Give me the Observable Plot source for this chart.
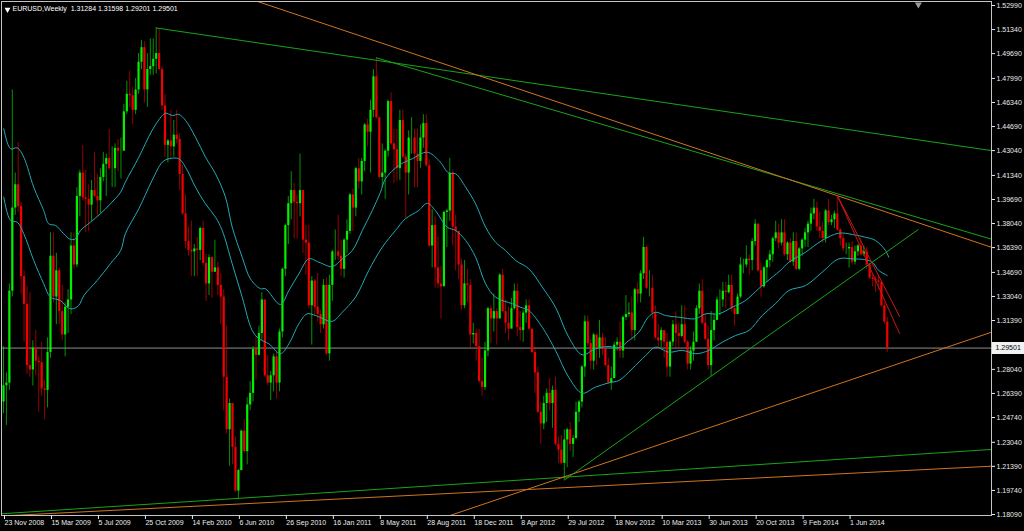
<!DOCTYPE html>
<html>
<head>
<meta charset="utf-8">
<script src="https://cdn.jsdelivr.net/npm/d3@7"></script>
<script src="https://cdn.jsdelivr.net/npm/@observablehq/plot@0.6"></script>
<style>
  html, body { margin: 0; padding: 0; background: #000; }
  #chart svg { display: block; }
</style>
</head>
<body>
<div id="chart"></div>
<script>
// EURUSD weekly bars, Sunday 23 Nov 2008 (week 0) to Sunday 31 Aug 2014 (week 301).
// Open of each bar is the previous bar's close.
const symbol = "EURUSD,Weekly";
const firstOpen = 1.2580;

const high2008  = [1.2960, 1.2780, 1.3390, 1.4720, 1.4150, 1.4360];
const low2008   = [1.2500, 1.2420, 1.2660, 1.3300, 1.3860, 1.3880];
const close2008 = [1.2692, 1.2710, 1.3340, 1.3910, 1.4070, 1.3920];

const high2009 = [
  1.3950, 1.3480, 1.3370, 1.3330,
  1.3000, 1.3070, 1.2890, 1.2990,
  1.2730, 1.3020, 1.3740, 1.3740, 1.3600,
  1.3500, 1.3380, 1.3260, 1.3350,
  1.3740, 1.3740, 1.4050, 1.4170, 1.4340,
  1.4170, 1.4070, 1.4100, 1.4290,
  1.4140, 1.4180, 1.4290, 1.4280,
  1.4450, 1.4330, 1.4350, 1.4380, 1.4390,
  1.4620, 1.4780, 1.4850, 1.4740,
  1.4800, 1.4970, 1.5060, 1.5050,
  1.4970, 1.5070, 1.5070, 1.5145, 1.5140,
  1.4880, 1.4690, 1.4380, 1.4580];
const low2009 = [
  1.3320, 1.2990, 1.2770, 1.2750,
  1.2690, 1.2760, 1.2510, 1.2620,
  1.2457, 1.2540, 1.2880, 1.3260, 1.3110,
  1.3110, 1.3000, 1.2890, 1.3050,
  1.3180, 1.3490, 1.3500, 1.3850, 1.3960,
  1.3740, 1.3750, 1.3820, 1.3980,
  1.3850, 1.3870, 1.4090, 1.3990,
  1.4170, 1.4050, 1.4050, 1.4160, 1.4110,
  1.4300, 1.4550, 1.4600, 1.4480,
  1.4550, 1.4690, 1.4860, 1.4630,
  1.4600, 1.4820, 1.4820, 1.4830, 1.4850,
  1.4580, 1.4260, 1.4220, 1.4250];
const close2009 = [
  1.3440, 1.3250, 1.2830, 1.2800,
  1.2950, 1.2860, 1.2850, 1.2670,
  1.2660, 1.2920, 1.3580, 1.3300, 1.3480,
  1.3200, 1.3040, 1.3230, 1.3280,
  1.3650, 1.3520, 1.3990, 1.4150, 1.3980,
  1.3970, 1.3930, 1.4030, 1.3990,
  1.3960, 1.4120, 1.4210, 1.4250,
  1.4180, 1.4180, 1.4320, 1.4300, 1.4300,
  1.4570, 1.4690, 1.4680, 1.4580,
  1.4720, 1.4910, 1.5010, 1.4720,
  1.4860, 1.4880, 1.4930, 1.4970, 1.4860,
  1.4610, 1.4340, 1.4370, 1.4330];

const high2010 = [
  1.4510, 1.4580, 1.4420, 1.4200, 1.4000,
  1.3780, 1.3820, 1.3660, 1.3710,
  1.3780, 1.3820, 1.3590, 1.3590,
  1.3580, 1.3690, 1.3540, 1.3460,
  1.3350, 1.3100, 1.2600, 1.2480, 1.2340,
  1.2120, 1.2390, 1.2460, 1.2610,
  1.2720, 1.2960, 1.3030, 1.3100,
  1.3330, 1.3270, 1.2900, 1.2790, 1.2910,
  1.2930, 1.3080, 1.3500, 1.3800,
  1.3990, 1.4160, 1.4080, 1.4000, 1.4280,
  1.4030, 1.3790, 1.3790, 1.3440,
  1.3420, 1.3460, 1.3210, 1.3420];
const low2010 = [
  1.4260, 1.4350, 1.4030, 1.3860, 1.3630,
  1.3580, 1.3440, 1.3440, 1.3440,
  1.3550, 1.3530, 1.3270, 1.3310,
  1.3290, 1.3470, 1.3310, 1.3110,
  1.2520, 1.2360, 1.2140, 1.2150, 1.1960,
  1.1915, 1.2110, 1.2230, 1.2150,
  1.2520, 1.2580, 1.2730, 1.2900,
  1.3000, 1.2750, 1.2690, 1.2590, 1.2650,
  1.2600, 1.2650, 1.3020, 1.3440,
  1.3660, 1.3830, 1.3700, 1.3700, 1.3850,
  1.3600, 1.3450, 1.3220, 1.2970,
  1.3170, 1.3130, 1.3050, 1.3080];
const close2010 = [
  1.4410, 1.4380, 1.4140, 1.3870, 1.3680,
  1.3620, 1.3610, 1.3630, 1.3620,
  1.3770, 1.3530, 1.3390, 1.3570,
  1.3470, 1.3500, 1.3380, 1.3300,
  1.2750, 1.2390, 1.2570, 1.2270, 1.1970,
  1.2110, 1.2380, 1.2240, 1.2560,
  1.2640, 1.2940, 1.2900, 1.3050,
  1.3280, 1.2760, 1.2710, 1.2760, 1.2890,
  1.2710, 1.3060, 1.3490, 1.3790,
  1.3940, 1.4030, 1.3950, 1.3940, 1.4030,
  1.3690, 1.3670, 1.3240, 1.3410,
  1.3230, 1.3180, 1.3110, 1.3380];

const high2011 = [
  1.3430, 1.3450, 1.3620, 1.3760, 1.3860,
  1.3690, 1.3700, 1.3830, 1.4010,
  1.4040, 1.4190, 1.4250, 1.4250,
  1.4490, 1.4520, 1.4650, 1.4860,
  1.4940, 1.4450, 1.4350, 1.4310, 1.4650,
  1.4700, 1.4450, 1.4450, 1.4580,
  1.4580, 1.4280, 1.4440, 1.4530, 1.4450,
  1.4450, 1.4480, 1.4550, 1.4550,
  1.4240, 1.3900, 1.3850, 1.3710,
  1.3510, 1.3890, 1.3900, 1.4250, 1.4170,
  1.3860, 1.3720, 1.3560, 1.3550,
  1.3490, 1.3420, 1.3120, 1.3080];
const low2011 = [
  1.2900, 1.2860, 1.3270, 1.3550, 1.3550,
  1.3440, 1.3430, 1.3600, 1.3730,
  1.3750, 1.3850, 1.4040, 1.4000,
  1.4160, 1.4330, 1.4150, 1.4530,
  1.4520, 1.4110, 1.4050, 1.3970, 1.4260,
  1.4340, 1.4080, 1.4090, 1.4100,
  1.4250, 1.3840, 1.4000, 1.4280, 1.4050,
  1.4050, 1.4180, 1.4320, 1.4190,
  1.3640, 1.3500, 1.3360, 1.3360,
  1.3150, 1.3420, 1.3640, 1.3820, 1.3650,
  1.3480, 1.3420, 1.3210, 1.3220,
  1.3260, 1.2950, 1.2980, 1.2860];
const close2011 = [
  1.2910, 1.3380, 1.3610, 1.3610, 1.3580,
  1.3490, 1.3690, 1.3750, 1.4000,
  1.3910, 1.4180, 1.4090, 1.4230,
  1.4480, 1.4430, 1.4580, 1.4810,
  1.4530, 1.4120, 1.4150, 1.4300, 1.4640,
  1.4350, 1.4310, 1.4180, 1.4510,
  1.4260, 1.4150, 1.4390, 1.4390, 1.4280,
  1.4230, 1.4390, 1.4490, 1.4200,
  1.3650, 1.3790, 1.3500, 1.3390,
  1.3370, 1.3880, 1.3890, 1.4150, 1.3780,
  1.3750, 1.3520, 1.3240, 1.3390,
  1.3380, 1.3040, 1.3050, 1.2960];

const high2012 = [
  1.3080, 1.2880, 1.2990, 1.3230, 1.3240,
  1.3320, 1.3220, 1.3460, 1.3490,
  1.3280, 1.3230, 1.3290, 1.3390,
  1.3390, 1.3200, 1.3210, 1.3280, 1.3280,
  1.3080, 1.2960, 1.2820, 1.2580,
  1.2620, 1.2670, 1.2740, 1.2690,
  1.2750, 1.2340, 1.2350, 1.2390, 1.2400,
  1.2440, 1.2350, 1.2580, 1.2590,
  1.2830, 1.3170, 1.3170, 1.3010, 1.3050,
  1.3040, 1.3140, 1.3050, 1.3020,
  1.2880, 1.2820, 1.2990, 1.3020,
  1.3130, 1.3170, 1.3310, 1.3260, 1.3300];
const low2012 = [
  1.2710, 1.2620, 1.2660, 1.2890, 1.2980,
  1.3060, 1.2970, 1.3150, 1.3190,
  1.3050, 1.3000, 1.3110, 1.3210,
  1.3030, 1.3000, 1.2990, 1.3120, 1.3070,
  1.2910, 1.2640, 1.2500, 1.2290,
  1.2390, 1.2440, 1.2520, 1.2400,
  1.2280, 1.2160, 1.2150, 1.2045, 1.2130,
  1.2240, 1.2200, 1.2320, 1.2440,
  1.2540, 1.2750, 1.2960, 1.2800, 1.2800,
  1.2830, 1.2880, 1.2900, 1.2820,
  1.2700, 1.2660, 1.2760, 1.2930,
  1.2880, 1.2880, 1.3140, 1.3160, 1.3000];
const close2012 = [
  1.2720, 1.2680, 1.2930, 1.3220, 1.3150,
  1.3200, 1.3150, 1.3450, 1.3200,
  1.3120, 1.3080, 1.3220, 1.3340,
  1.3090, 1.3070, 1.3190, 1.3240, 1.3080,
  1.2920, 1.2780, 1.2510, 1.2430,
  1.2570, 1.2640, 1.2570, 1.2660,
  1.2290, 1.2250, 1.2160, 1.2320, 1.2390,
  1.2290, 1.2330, 1.2510, 1.2580,
  1.2820, 1.3130, 1.2980, 1.2860, 1.3040,
  1.2950, 1.3020, 1.2940, 1.2830,
  1.2710, 1.2740, 1.2970, 1.2990,
  1.2930, 1.3160, 1.3180, 1.3190, 1.3070];

const high2013 = [
  1.3360, 1.3400, 1.3480, 1.3710,
  1.3650, 1.3480, 1.3450, 1.3240,
  1.3110, 1.3090, 1.3050, 1.3050, 1.3000,
  1.3140, 1.3200, 1.3120, 1.3240,
  1.3240, 1.3000, 1.2960, 1.3060,
  1.3240, 1.3390, 1.3420, 1.3180, 1.3100,
  1.3200, 1.3180, 1.3300, 1.3350,
  1.3400, 1.3400, 1.3450, 1.3450,
  1.3230, 1.3320, 1.3570, 1.3560, 1.3650,
  1.3590, 1.3700, 1.3830, 1.3800,
  1.3530, 1.3510, 1.3560, 1.3620,
  1.3710, 1.3820, 1.3800, 1.3830, 1.3830];
const low2013 = [
  1.3000, 1.3260, 1.3260, 1.3420,
  1.3350, 1.3300, 1.3150, 1.3010,
  1.2950, 1.2950, 1.2880, 1.2750, 1.2750,
  1.2960, 1.2950, 1.2950, 1.3020,
  1.2980, 1.2800, 1.2800, 1.2860,
  1.2990, 1.3180, 1.3110, 1.3000, 1.2800,
  1.2755, 1.3000, 1.3140, 1.3170,
  1.3230, 1.3220, 1.3320, 1.3200,
  1.3100, 1.3180, 1.3290, 1.3460, 1.3500,
  1.3450, 1.3480, 1.3650, 1.3470,
  1.3300, 1.3360, 1.3400, 1.3500,
  1.3540, 1.3680, 1.3630, 1.3650, 1.3580];
const close2013 = [
  1.3350, 1.3320, 1.3460, 1.3640,
  1.3360, 1.3360, 1.3190, 1.3020,
  1.3000, 1.3070, 1.2990, 1.2820, 1.2990,
  1.3110, 1.3050, 1.3030, 1.3110,
  1.2990, 1.2840, 1.2930, 1.2990,
  1.3220, 1.3340, 1.3120, 1.3010, 1.2830,
  1.3070, 1.3140, 1.3280, 1.3280,
  1.3340, 1.3330, 1.3380, 1.3220,
  1.3180, 1.3300, 1.3520, 1.3520, 1.3560,
  1.3550, 1.3680, 1.3800, 1.3480,
  1.3370, 1.3500, 1.3550, 1.3590,
  1.3700, 1.3740, 1.3670, 1.3740, 1.3590];

const high2014 = [
  1.3680, 1.3700, 1.3740, 1.3740,
  1.3640, 1.3700, 1.3770, 1.3820,
  1.3910, 1.3970, 1.3950, 1.3880, 1.3810,
  1.3900, 1.3970, 1.3860, 1.3890,
  1.3995, 1.3770, 1.3730, 1.3670,
  1.3670, 1.3680, 1.3650, 1.3660, 1.3700,
  1.3650, 1.3640, 1.3530, 1.3450,
  1.3440, 1.3440, 1.3390, 1.3260, 1.31598];
const low2014 = [
  1.3550, 1.3530, 1.3510, 1.3480,
  1.3480, 1.3580, 1.3640, 1.3640,
  1.3750, 1.3830, 1.3750, 1.3700, 1.3670,
  1.3670, 1.3790, 1.3790, 1.3770,
  1.3750, 1.3650, 1.3610, 1.3590,
  1.3500, 1.3520, 1.3520, 1.3580, 1.3580,
  1.3580, 1.3490, 1.3420, 1.3370,
  1.3330, 1.3350, 1.3230, 1.3110, 1.29201];
const close2014 = [
  1.3670, 1.3540, 1.3680, 1.3490,
  1.3630, 1.3690, 1.3740, 1.3800,
  1.3870, 1.3910, 1.3780, 1.3750, 1.3700,
  1.3890, 1.3810, 1.3830, 1.3870,
  1.3760, 1.3700, 1.3630, 1.3630,
  1.3640, 1.3540, 1.3610, 1.3650, 1.3590,
  1.3610, 1.3520, 1.3430, 1.3420,
  1.3410, 1.3400, 1.3240, 1.31284, 1.29501];

// Moving-average bands of highs and lows: [week, price]
const upperBand = [
  [0.1,1.4454],[2.4,1.4316],[4.7,1.4323],[6.9,1.4259],[10.3,1.4053],[13.7,1.3893],[15.4,1.3802],
  [17.7,1.3791],[20.5,1.3734],[22.8,1.3695],[24.5,1.3699],[26.2,1.3756],[29.6,1.3813],[33.0,1.3871],
  [36.4,1.3939],[39.9,1.4019],[41.5,1.4088],[46.1,1.4259],[50.6,1.4442],[54.1,1.4545],[55.2,1.4561],
  [57.5,1.4545],[59.7,1.4552],[62.0,1.4511],[65.4,1.4396],[68.8,1.4259],[72.2,1.4145],[75.6,1.3985],
  [77.9,1.3779],[81.3,1.3573],[84.1,1.3425],[87.5,1.3357],[89.2,1.3357],[94.3,1.3249],[97.2,1.3345],
  [100.6,1.3459],[104.0,1.3562],[107.4,1.3539],[112.0,1.3509],[115.4,1.3562],[118.8,1.3619],
  [122.2,1.3756],[125.6,1.3893],[128.4,1.4019],[130.1,1.4111],[134.6,1.4202],[139.2,1.4248],
  [144.3,1.4293],[148.3,1.4236],[151.7,1.4149],[154.0,1.4145],[157.4,1.4053],[160.8,1.3939],
  [164.2,1.3779],[167.6,1.3676],[171.0,1.3619],[174.4,1.3551],[178.9,1.3494],[183.5,1.3368],
  [188.0,1.3230],[192.5,1.3025],[197.1,1.2904],[201.6,1.2945],[206.2,1.2961],[209.6,1.2952],
  [213.0,1.3002],[216.4,1.3059],[219.5,1.3160],[222.1,1.3196],[225.5,1.3173],[230.0,1.3162],
  [235.7,1.3151],[239.1,1.3185],[243.6,1.3185],[248.2,1.3230],[252.7,1.3276],[257.2,1.3357],
  [261.8,1.3436],[264.6,1.3482],[267.5,1.3539],[273.2,1.3608],[278.8,1.3688],[284.5,1.3738],
  [289.1,1.3729],[293.6,1.3710],[297.0,1.3688],[300.4,1.3619],[301.5,1.3573]];
const lowerBand = [
  [0.1,1.3985],[2.4,1.3825],[4.7,1.3813],[6.9,1.3734],[10.3,1.3551],[13.7,1.3391],[16.0,1.3299],
  [19.4,1.3276],[21.7,1.3230],[23.4,1.3219],[25.6,1.3242],[27.4,1.3311],[31.9,1.3413],[36.4,1.3528],
  [39.9,1.3619],[41.5,1.3734],[46.1,1.3906],[50.6,1.4099],[54.1,1.4225],[56.3,1.4248],[59.7,1.4248],
  [62.0,1.4190],[65.4,1.4053],[68.8,1.3939],[72.2,1.3848],[74.5,1.3756],[77.9,1.3528],[81.3,1.3299],
  [84.7,1.3071],[87.0,1.3014],[90.4,1.2979],[94.3,1.2911],[97.2,1.2979],[100.6,1.3117],[103.4,1.3185],
  [106.3,1.3173],[112.0,1.3134],[115.4,1.3196],[119.9,1.3299],[124.4,1.3482],[129.0,1.3642],
  [133.5,1.3756],[136.9,1.3837],[141.4,1.3893],[144.3,1.3943],[147.1,1.3893],[151.1,1.3779],
  [154.0,1.3756],[157.4,1.3688],[160.8,1.3573],[164.2,1.3391],[167.6,1.3299],[173.3,1.3254],
  [176.1,1.3230],[178.9,1.3208],[183.5,1.3093],[188.0,1.2934],[192.5,1.2750],[197.1,1.2641],
  [201.6,1.2682],[206.2,1.2712],[209.6,1.2728],[214.1,1.2808],[218.7,1.2899],[222.1,1.2956],
  [226.6,1.2922],[231.2,1.2934],[235.7,1.2911],[240.2,1.2934],[244.8,1.2990],[249.3,1.3036],
  [253.9,1.3071],[258.4,1.3173],[262.9,1.3254],[267.5,1.3345],[273.2,1.3379],[278.8,1.3470],
  [284.5,1.3562],[289.1,1.3562],[293.6,1.3555],[295.9,1.3539],[298.1,1.3482],[301.0,1.3448]];

// Hand-drawn trend lines: [week, price] anchors
const highs2009to2011 = [[52, 1.5145], [336.5, 1.4304]];
const highs2011to2014 = [[127, 1.4940], [336.5, 1.3697]];
const highs2008to2014 = [[-19, 1.6038], [336.5, 1.3641]];
const lows2010to2012  = [[-0.7, 1.1814], [336.5, 1.2255]];
const lowsLongTerm    = [[-0.7, 1.1799], [336.5, 1.2140]];
const lows2012steep   = [[150, 1.1788], [336.5, 1.3059]];
const lows2012to2013  = [[191, 1.2045], [311.5, 1.3762]];
const fallFast2014    = [[284, 1.3995], [305.2, 1.3050]];
const fallSlow2014    = [[284, 1.3995], [305.2, 1.3167]];

const priceTicks = [1.52990, 1.51340, 1.49690, 1.47990, 1.46340, 1.44690, 1.43040, 1.41340,
  1.39690, 1.38040, 1.36390, 1.34690, 1.33040, 1.31390, 1.28040, 1.26390, 1.24740,
  1.23040, 1.21390, 1.19740, 1.18090];
const dateTickWeeks = [0, 16, 32, 48, 64, 80, 96, 112, 128, 144, 160, 176, 192, 208, 224, 240, 256, 272, 288];
const dateTickLabels = ["23 Nov 2008", "15 Mar 2009", "5 Jul 2009", "25 Oct 2009", "14 Feb 2010",
  "6 Jun 2010", "26 Sep 2010", "16 Jan 2011", "8 May 2011", "28 Aug 2011", "18 Dec 2011",
  "8 Apr 2012", "29 Jul 2012", "18 Nov 2012", "10 Mar 2013", "30 Jun 2013", "20 Oct 2013",
  "9 Feb 2014", "1 Jun 2014"];

const weekSpan = [-0.68, 336.5];
const priceSpan = [1.18021, 1.53264];
const tagEndWeek = 347.7;     // far end of the price tag, in week units right of the plot
const shiftWeek = 311.6;

// ---- assemble bars ----
const highs = [...high2008, ...high2009, ...high2010, ...high2011, ...high2012, ...high2013, ...high2014];
const lows = [...low2008, ...low2009, ...low2010, ...low2011, ...low2012, ...low2013, ...low2014];
const closes = [...close2008, ...close2009, ...close2010, ...close2011, ...close2012, ...close2013, ...close2014];
const bars = closes.map((close, i) => ({
  week: i,
  open: i === 0 ? firstOpen : closes[i - 1],
  high: highs[i],
  low: lows[i],
  close
}));
const last = bars[bars.length - 1];
const fmt = d3.format(".5f");

const bullColor = "#00f000";
const bearColor = "#f00000";
const candleColor = d => d.close >= d.open ? bullColor : bearColor;
const bandColor = "#22a9b6";
const green = "#18a418";
const orange = "#d0741e";
const red = "#cc1616";

const trendLines = [
  [highs2009to2011, green], [highs2011to2014, green], [highs2008to2014, orange],
  [lows2010to2012, green], [lowsLongTerm, orange], [lows2012steep, orange],
  [lows2012to2013, green], [fallFast2014, red], [fallSlow2014, red]
];

const dateLabel = new Map(dateTickWeeks.map((w, k) => [w, dateTickLabels[k]]));

const chart = Plot.plot({
  width: 1024,
  height: 531,
  marginLeft: 1,
  marginRight: 33,
  marginTop: 1,
  marginBottom: 16,
  style: {background: "#000", color: "#fff", fontFamily: "'Liberation Sans', Arial, sans-serif", fontSize: "7px"},
  x: {type: "linear", domain: weekSpan, label: null},
  y: {type: "linear", domain: priceSpan, label: null},
  marks: [
    Plot.ruleY([last.close], {stroke: "#8e8e8e", strokeWidth: 1}),
    Plot.ruleX(bars, {x: "week", y1: "low", y2: "high", stroke: candleColor, strokeOpacity: 0.62, strokeWidth: 1, clip: true}),
    Plot.ruleX(bars, {x: "week", y1: "open", y2: "close", stroke: candleColor, strokeWidth: 2.2, clip: true}),
    Plot.line(upperBand, {x: d => d[0], y: d => d[1], stroke: bandColor, strokeWidth: 1, curve: "catmull-rom", clip: true}),
    Plot.line(lowerBand, {x: d => d[0], y: d => d[1], stroke: bandColor, strokeWidth: 1, curve: "catmull-rom", clip: true}),
    ...trendLines.map(([pts, color]) =>
      Plot.line(pts, {x: d => d[0], y: d => d[1], stroke: color, strokeWidth: 1, clip: true})),
    Plot.frame({stroke: "#c4c4c4"}),
    Plot.axisY(priceTicks, {anchor: "right", tickSize: 3, tickPadding: 2, tickFormat: fmt, color: "#ececec"}),
    Plot.axisX(dateTickWeeks, {anchor: "bottom", tickSize: 4, tickPadding: 1, textAnchor: "start", dx: 1,
      tickFormat: d => dateLabel.get(d), color: "#ececec"}),
    // current price tag on the price axis
    Plot.ruleY([last.close], {x1: weekSpan[1], x2: tagEndWeek, dx: 1, stroke: "#f2f2f2", strokeWidth: 12}),
    Plot.text([last.close], {x: weekSpan[1], y: d => d, text: fmt, dx: 4, textAnchor: "start", fill: "#000"}),
    Plot.dot([shiftWeek], {x: d => d, frameAnchor: "top", dy: 3, symbol: "triangle", rotate: 180, r: 2.6, fill: "#9a9a9a", stroke: null}),
    Plot.dot([symbol], {frameAnchor: "top-left", dx: 6, dy: 8, symbol: "triangle", rotate: 180, r: 2.2, fill: "#fff", stroke: null}),
    Plot.text([`${symbol}\u00a0\u00a0${fmt(last.open)} ${fmt(last.high)} ${fmt(last.low)} ${fmt(last.close)}`],
      {frameAnchor: "top-left", dx: 11, dy: 5, textAnchor: "start", lineAnchor: "top", fill: "#fff"})
  ]
});

document.getElementById("chart").appendChild(chart);
</script>
</body>
</html>
